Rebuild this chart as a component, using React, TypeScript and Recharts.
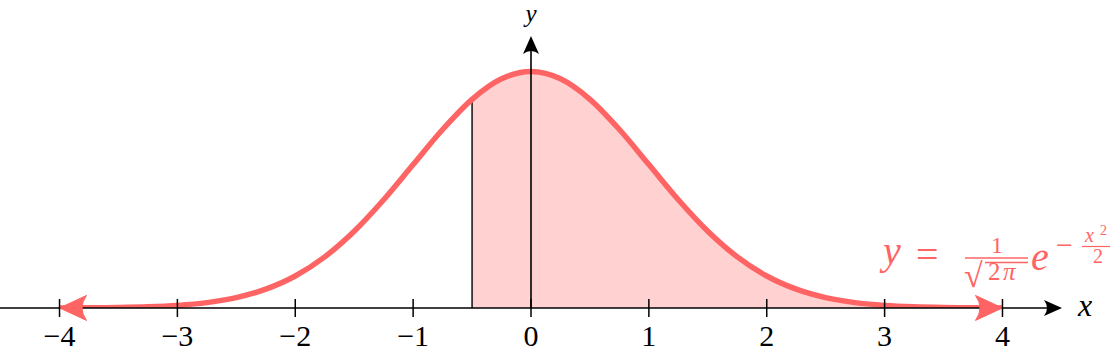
import React from "react";
import {
  ComposedChart,
  Line,
  Area,
  XAxis,
  YAxis,
  ReferenceLine,
  ReferenceDot,
  Customized,
} from "recharts";

// x positions of the sampled curve
const xValues = [
  -4, -3.75, -3.5, -3.25, -3, -2.75, -2.5, -2.25, -2, -1.75, -1.5, -1.25, -1,
  -0.75, -0.5, -0.25, 0, 0.25, 0.5, 0.75, 1, 1.25, 1.5, 1.75, 2, 2.25, 2.5,
  2.75, 3, 3.25, 3.5, 3.75, 4,
];
// curve heights
const yValues = [
  0.00013, 0.00035, 0.00087, 0.00203, 0.00443, 0.00909, 0.01753, 0.03174,
  0.05399, 0.08628, 0.12952, 0.18265, 0.24197, 0.30114, 0.35207, 0.38667,
  0.39894, 0.38667, 0.35207, 0.30114, 0.24197, 0.18265, 0.12952, 0.08628,
  0.05399, 0.03174, 0.01753, 0.00909, 0.00443, 0.00203, 0.00087, 0.00035,
  0.00013,
];
const shadeStart = -0.5;
const shadeLineTop = 0.348;
const xTicks = [-4, -3, -2, -1, 0, 1, 2, 3, 4];
const xDomain = [-4.505, 4.505];
const yDomain = [0, 0.5196];
const yAxisTop = 0.4588;

const data = xValues.map((x, i) => ({
  x,
  y: yValues[i],
  shade: x >= shadeStart ? yValues[i] : null,
}));

const RED = "#ff6464";
const FILL = "#ffd1d1";
const FONT = "Liberation Serif, serif";

const fmt = (v: number) => (v < 0 ? "\u2212" + Math.abs(v) : String(v));

const Tick = (props: any) => {
  const { x, y, payload } = props;
  return (
    <g>
      <line x1={x} x2={x} y1={y - 9} y2={y + 9} stroke="#000" strokeWidth={1.5} />
      <text
        x={x}
        y={y + 38}
        textAnchor="middle"
        fontFamily={FONT}
        fontSize={30}
        fill="#000"
      >
        {fmt(payload.value)}
      </text>
    </g>
  );
};

const HArrowLine = (props: any) => {
  const { x1, y1, x2, y2 } = props;
  const tip = Math.max(x1, x2);
  const start = Math.min(x1, x2);
  return (
    <g>
      <line x1={start} y1={y1} x2={tip - 4} y2={y2} stroke="#000" strokeWidth={1.6} />
      <path
        d={`M ${tip} ${y1} L ${tip - 18} ${y1 - 8} Q ${tip - 12} ${y1} ${tip - 18} ${y1 + 8} Z`}
        fill="#000"
      />
    </g>
  );
};

const VArrowLine = (props: any) => {
  const { x1, y1, x2, y2 } = props;
  const tip = Math.min(y1, y2);
  const bottom = Math.max(y1, y2);
  return (
    <g>
      <line x1={x1} y1={bottom} x2={x2} y2={tip + 4} stroke="#000" strokeWidth={1.6} />
      <path
        d={`M ${x1} ${tip} L ${x1 - 8} ${tip + 18} Q ${x1} ${tip + 12} ${x1 + 8} ${tip + 18} Z`}
        fill="#000"
      />
    </g>
  );
};

const arrowHead = (dir: number) => (props: any) => {
  const { cx, cy } = props;
  const L = 27;
  const H = 12.5;
  const d = `M ${cx} ${cy} L ${cx - dir * L} ${cy - H} Q ${cx - dir * 18} ${cy} ${cx - dir * L} ${cy + H} Z`;
  return <path d={d} fill={RED} stroke={RED} strokeWidth={1} strokeLinejoin="round" />;
};

const Formula = () => (
  <g fontFamily={FONT} fill={RED}>
    <text x={883} y={264} fontSize={40} fontStyle="italic">y</text>
    <text x={916} y={268} fontSize={40}>=</text>
    <text x={997} y={253} fontSize={24} textAnchor="middle">1</text>
    <line x1={965} x2={1028} y1={258} y2={258} stroke={RED} strokeWidth={1.6} />
    <text x={964} y={287} fontSize={34}>√</text>
    <line x1={985} x2={1028} y1={262.5} y2={262.5} stroke={RED} strokeWidth={1.4} />
    <text x={988} y={280} fontSize={25}>2</text>
    <text x={1003} y={280} fontSize={25} fontStyle="italic">π</text>
    <text x={1031} y={270} fontSize={40} fontStyle="italic">e</text>
    <text x={1056} y={255} fontSize={30}>−</text>
    <text x={1085} y={242} fontSize={20} fontStyle="italic">x</text>
    <text x={1100} y={235} fontSize={14}>2</text>
    <line x1={1082} x2={1110} y1={246.5} y2={246.5} stroke={RED} strokeWidth={1.2} />
    <text x={1098} y={263} fontSize={20} textAnchor="middle">2</text>
  </g>
);

const AxisLabels = () => (
  <g fontFamily={FONT} fontStyle="italic" fill="#000">
    <text x={1078} y={316} fontSize={32}>x</text>
    <text x={531} y={22} fontSize={25} textAnchor="middle">y</text>
  </g>
);

export default function App() {
  return (
    <div style={{ position: "absolute", left: 0, top: 0, width: 1118, height: 354, background: "#fff" }}>
      <ComposedChart
        width={1118}
        height={354}
        data={data}
        margin={{ top: 0, right: 56, bottom: 0, left: 0 }}
      >
        <XAxis
          dataKey="x"
          type="number"
          domain={xDomain}
          allowDataOverflow
          ticks={xTicks}
          height={46}
          axisLine={false}
          tickLine={false}
          tickSize={0}
          tickMargin={0}
          tick={<Tick />}
          interval={0}
        />
        <YAxis type="number" domain={yDomain} allowDataOverflow hide width={0} />
        <Area
          dataKey="shade"
          type="monotone"
          fill={FILL}
          fillOpacity={1}
          stroke="none"
          isAnimationActive={false}
          connectNulls={false}
        />
        <ReferenceLine
          segment={[
            { x: shadeStart, y: 0 },
            { x: shadeStart, y: shadeLineTop },
          ]}
          stroke="#000"
          strokeWidth={1.4}
          ifOverflow="visible"
        />
        <Line
          dataKey="y"
          type="monotone"
          stroke={RED}
          strokeWidth={5.5}
          dot={false}
          activeDot={false}
          isAnimationActive={false}
        />
        <ReferenceDot x={4} y={yValues[yValues.length - 1]} shape={arrowHead(1)} ifOverflow="visible" />
        <ReferenceDot x={-4} y={yValues[0]} shape={arrowHead(-1)} ifOverflow="visible" />
        <ReferenceLine y={0} ifOverflow="visible" shape={<HArrowLine />} />
        <ReferenceLine
          segment={[
            { x: 0, y: 0 },
            { x: 0, y: yAxisTop },
          ]}
          ifOverflow="visible"
          shape={<VArrowLine />}
        />
        <Customized component={<Formula />} />
        <Customized component={<AxisLabels />} />
      </ComposedChart>
    </div>
  );
}
